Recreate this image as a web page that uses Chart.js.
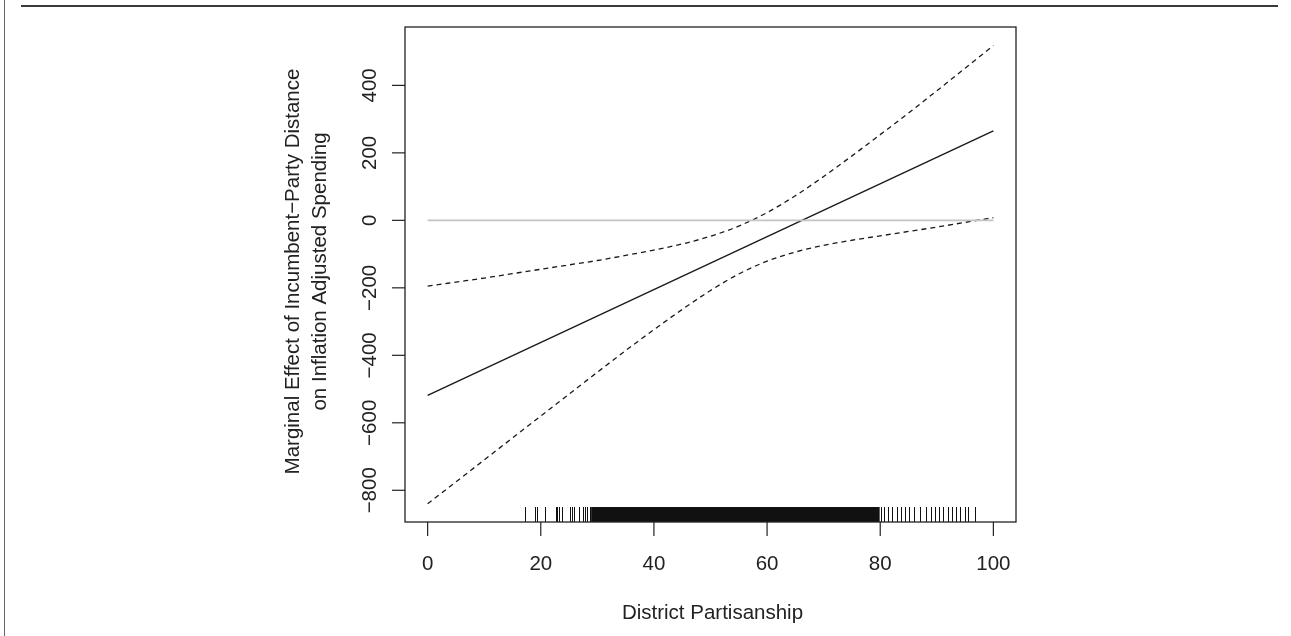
<!DOCTYPE html>
<html>
<head>
<meta charset="utf-8">
<script src="https://cdn.jsdelivr.net/npm/chart.js@4.4.1/dist/chart.umd.min.js"></script>
<style>
  body{ margin:0; background:#fff; }
  canvas{ display:block; }
</style>
</head>
<body>
<canvas id="me" width="1291" height="636"></canvas>
<script>
// marginal effect plot: estimate, 95% band, zero reference and rug of observations
const gridX = [0,5,10,15,20,25,30,35,40,45,50,55,60,65,70,75,80,85,90,95,100];
const upperCI = [-195,-183,-171,-158,-145,-132,-119,-104,-88,-70,-47,-17,23,73,130,191,254,318,384,451,518];
const lowerCI = [-840,-775,-710,-645,-580,-515,-450,-386,-324,-264,-208,-159,-121,-94,-74,-59,-46,-33,-20,-6,8];
const estX = [0,100];
const estY = [-519,265];
const zeroX = [0,100];
const zeroY = [0,0];
const rugTicks = [17.2,18.9,19.3,20.8,22.7,22.9,23.3,23.8,25.2,25.5,25.9,26.7,27.4,27.8,28.2,28.7,
  80.1,80.6,81.4,82.1,82.9,83.6,84.4,85.1,85.9,87.0,88.1,88.9,89.6,90.4,91.1,91.9,92.6,93.4,94.1,94.9,95.6,96.7];
const rugDense = [28.9,79.9]; // solid block where single ticks can't be told apart
const xTicks = [0,20,40,60,80,100];
const yTicks = [-800,-600,-400,-200,0,200,400];
const xTitle = "District Partisanship";
const yTitle = ["Marginal Effect of Incumbent\u2212Party Distance","on Inflation Adjusted Spending"];

const FONT = '20.5px "Liberation Sans", Arial, sans-serif';
function pts(xs,ys){ return xs.map((x,i)=>({x, y:ys[i]})); }
function lab(v){ return v<0 ? "\u2212"+Math.abs(v) : String(v); }

const rPlot = {
  id:"rPlot",
  afterDatasetsDraw(chart){
    const {ctx, chartArea:a, scales:{x, y}} = chart;
    ctx.save();
    // rug
    ctx.strokeStyle="#111"; ctx.lineWidth=1;
    rugTicks.forEach(v=>{
      const px = Math.round(x.getPixelForValue(v))+0.5;
      ctx.beginPath(); ctx.moveTo(px, a.bottom); ctx.lineTo(px, a.bottom-15); ctx.stroke();
    });
    ctx.fillStyle="#111";
    const d0 = x.getPixelForValue(rugDense[0]), d1 = x.getPixelForValue(rugDense[1]);
    ctx.fillRect(d0, a.bottom-15, d1-d0, 15);
    // box
    ctx.strokeStyle="#222"; ctx.lineWidth=1.3;
    ctx.strokeRect(a.left, a.top, a.right-a.left, a.bottom-a.top);
    // ticks + labels
    ctx.font=FONT; ctx.fillStyle="#222"; ctx.lineWidth=1.2;
    ctx.textAlign="center"; ctx.textBaseline="alphabetic";
    xTicks.forEach(v=>{
      const px = x.getPixelForValue(v);
      ctx.beginPath(); ctx.moveTo(px, a.bottom); ctx.lineTo(px, a.bottom+14); ctx.stroke();
      ctx.fillText(lab(v), px, a.bottom+48);
    });
    yTicks.forEach(v=>{
      const py = y.getPixelForValue(v);
      ctx.beginPath(); ctx.moveTo(a.left, py); ctx.lineTo(a.left-13, py); ctx.stroke();
      ctx.save(); ctx.translate(a.left-29, py); ctx.rotate(-Math.PI/2);
      ctx.fillText(lab(v), 0, 0); ctx.restore();
    });
    // titles
    const cx = (a.left+a.right)/2, cy = (a.top+a.bottom)/2;
    ctx.fillText(xTitle, cx+2, a.bottom+97);
    ctx.save(); ctx.translate(299, cy-3); ctx.rotate(-Math.PI/2);
    ctx.fillText(yTitle[0], 0, 0);
    ctx.fillText(yTitle[1], 0, 26.6);
    ctx.restore();
    // page frame
    ctx.strokeStyle="#3a3a3a"; ctx.lineWidth=2;
    ctx.beginPath(); ctx.moveTo(21, 6); ctx.lineTo(1278, 6); ctx.stroke();
    ctx.strokeStyle="#666"; ctx.lineWidth=1;
    ctx.beginPath(); ctx.moveTo(4.5, 0); ctx.lineTo(4.5, 636); ctx.stroke();
    ctx.restore();
  }
};

new Chart(document.getElementById("me").getContext("2d"), {
  type:"scatter",
  data:{ datasets:[
    {label:"zero", data:pts(zeroX,zeroY), showLine:true, borderColor:"#c4c4c4", borderWidth:1.6, pointRadius:0},
    {label:"upper", data:pts(gridX,upperCI), showLine:true, borderColor:"#1a1a1a", borderWidth:1.3, borderDash:[5,4], pointRadius:0, cubicInterpolationMode:"monotone"},
    {label:"lower", data:pts(gridX,lowerCI), showLine:true, borderColor:"#1a1a1a", borderWidth:1.3, borderDash:[5,4], pointRadius:0, cubicInterpolationMode:"monotone"},
    {label:"estimate", data:pts(estX,estY), showLine:true, borderColor:"#1a1a1a", borderWidth:1.4, pointRadius:0}
  ]},
  options:{
    responsive:false, animation:false, devicePixelRatio:1,
    layout:{ padding:{left:405, right:275, top:27, bottom:114} },
    plugins:{ legend:{display:false}, tooltip:{enabled:false} },
    scales:{
      x:{ type:"linear", min:-4, max:104, display:false },
      y:{ type:"linear", min:-894, max:573, display:false }
    }
  },
  plugins:[rPlot]
});
</script>
</body>
</html>
